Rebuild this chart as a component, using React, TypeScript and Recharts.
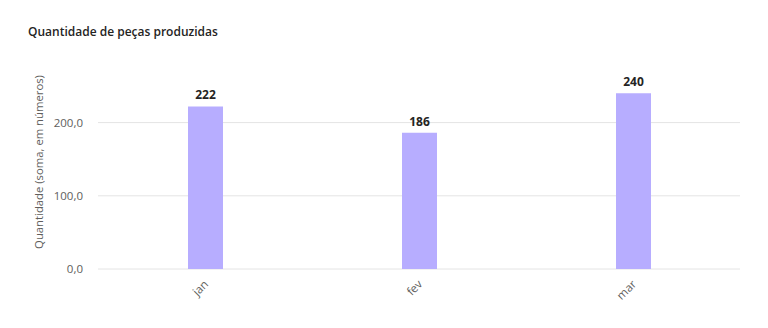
import React from 'react';
import { BarChart, Bar, XAxis, YAxis, CartesianGrid, LabelList, Label } from 'recharts';

const months = ['jan', 'fev', 'mar'];
const quantities = [222, 186, 240];
const yTicks = [0, 100, 200];

const data = months.map((m, i) => ({ month: m, qtd: quantities[i] }));

const FONT = '"Open Sans", "Noto Sans", sans-serif';

const XTick = (props: any) => {
  const { x, y, payload } = props;
  return (
    <text
      x={x + 4}
      y={y + 8}
      transform={`rotate(-45 ${x + 4} ${y + 8})`}
      textAnchor="end"
      fill="#605e5c"
      fontSize={11.5}
      fontFamily={FONT}
    >
      {payload.value}
    </text>
  );
};

export default function App() {
  return (
    <div style={{ position: 'absolute', left: 0, top: 0, width: 768, height: 328, background: '#fff', fontFamily: FONT }}>
      <div style={{ position: 'absolute', left: 28, top: 23, fontSize: 12, fontWeight: 600, color: '#252423', fontFamily: FONT }}>
        Quantidade de peças produzidas
      </div>
      <BarChart width={768} height={328} data={data} margin={{ top: 86, right: 28, bottom: 29, left: 28 }} barSize={35}>
        <CartesianGrid vertical={false} stroke="#e4e4e4" horizontalValues={yTicks} />
        <XAxis dataKey="month" axisLine={false} tickLine={false} tick={<XTick />} interval={0} height={30} />
        <YAxis
          domain={[0, 250]}
          ticks={yTicks}
          width={70}
          axisLine={false}
          tickLine={false}
          tickMargin={9}
          tick={{ fill: '#605e5c', fontSize: 11.5, fontFamily: FONT }}
          tickFormatter={(v: number) => v.toFixed(1).replace('.', ',')}
        >
          <Label
            content={() => (
              <text
                x={43}
                y={162}
                transform="rotate(-90 43 162)"
                textAnchor="middle"
                fill="#605e5c"
                fontSize={11.3}
                fontFamily={FONT}
              >
                Quantidade (soma, em números)
              </text>
            )}
          />
        </YAxis>
        <Bar dataKey="qtd" fill="#b7adff" isAnimationActive={false}>
          <LabelList dataKey="qtd" position="top" offset={7} fill="#252423" fontSize={12} fontWeight={700} fontFamily={FONT} />
        </Bar>
      </BarChart>
    </div>
  );
}
